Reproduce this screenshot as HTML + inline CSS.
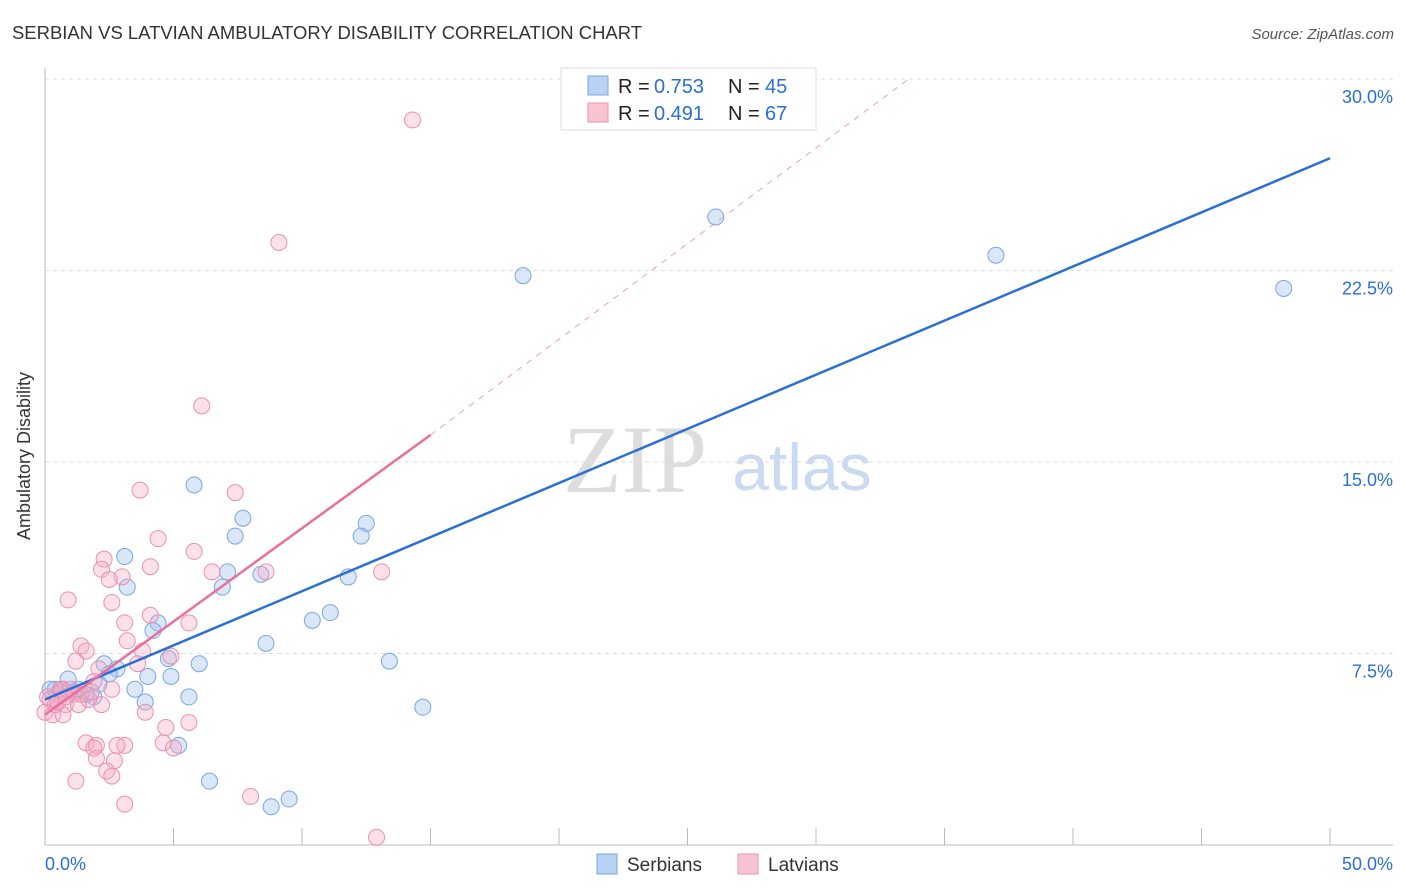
<!DOCTYPE html>
<html><head><meta charset="utf-8"><style>
body{margin:0;background:#fff;font-family:"Liberation Sans",sans-serif;}
svg{display:block}
</style></head><body>
<svg id="chart" width="1406" height="892">
<text x="12" y="39" font-size="18" fill="#333" textLength="630" lengthAdjust="spacingAndGlyphs">SERBIAN VS LATVIAN AMBULATORY DISABILITY CORRELATION CHART</text>
<text x="1394" y="39" font-size="15" fill="#555" font-style="italic" text-anchor="end">Source: ZipAtlas.com</text>
<g>
<text x="635" y="492" font-size="96" font-family="Liberation Serif,serif" fill="#ddd" text-anchor="middle">ZIP</text>
<text x="802" y="490" font-size="66" fill="#c9daf2" text-anchor="middle">atlas</text>
</g>
<g id="grid"></g><g id="axes"></g><g id="lines"></g><g id="pts"></g>
<text x="30" y="456" font-size="18" fill="#333" transform="rotate(-90 30 456)" text-anchor="middle">Ambulatory Disability</text>
<g>
<rect x="561" y="68" width="255" height="62" fill="#fff" stroke="#ddd"/>
<rect x="588" y="76" width="20" height="19" fill="#b8d2f4" stroke="#7aa6e0"/>
<text x="618" y="93" font-size="20" fill="#222">R =</text>
<text x="654" y="93" font-size="20" fill="#2a6fd6">0.753</text>
<text x="728" y="93" font-size="20" fill="#222">N =</text>
<text x="765" y="93" font-size="20" fill="#2a6fd6">45</text>
<rect x="588" y="103" width="20" height="19" fill="#f8c4d4" stroke="#e890b0"/>
<text x="618" y="120" font-size="20" fill="#222">R =</text>
<text x="654" y="120" font-size="20" fill="#2a6fd6">0.491</text>
<text x="728" y="120" font-size="20" fill="#222">N =</text>
<text x="765" y="120" font-size="20" fill="#2a6fd6">67</text>
</g>
<g>
<rect x="597" y="854" width="20" height="20" fill="#b8d2f4" stroke="#7aa6e0"/>
<text x="627" y="871" font-size="19" fill="#333">Serbians</text>
<rect x="738" y="854" width="20" height="20" fill="#f8c4d4" stroke="#e890b0"/>
<text x="768" y="871" font-size="19" fill="#333">Latvians</text>
</g>
</svg>
<script>
const yTicks=[7.5,15,22.5,30];
const yTickLabels=["7.5%","15.0%","22.5%","30.0%"];
const xTicks=[0,5,10,15,20,25,30,35,40,45,50];
const serbX=[26.1,37.0,48.2,18.6,5.8,7.7,7.4,12.5,12.3,3.1,3.2,7.1,6.9,8.4,11.8,11.1,10.4,4.4,4.2,8.6,4.8,6.0,13.4,2.3,2.8,2.5,4.0,4.9,0.9,2.1,3.5,1.3,0.4,5.6,3.9,1.9,14.7,5.2,6.4,8.8,9.5,0.2,0.6,1.6,1.1];
const serbY=[24.6,23.1,21.8,22.3,14.1,12.8,12.1,12.6,12.1,11.3,10.1,10.7,10.1,10.6,10.5,9.1,8.8,8.7,8.4,7.9,7.3,7.1,7.2,7.1,6.9,6.7,6.6,6.6,6.5,6.3,6.1,6.1,6.1,5.8,5.6,5.8,5.4,3.9,2.5,1.5,1.8,6.1,6.0,5.9,6.0];
const latX=[14.3,9.1,6.1,3.7,7.4,4.4,5.8,2.3,4.1,3.0,2.2,2.5,6.5,8.6,13.1,0.9,2.6,4.1,3.1,5.6,3.2,1.4,1.6,3.8,4.9,3.6,1.2,2.1,1.9,0.7,0.5,1.1,0.2,0.8,2.2,0.0,0.3,0.7,3.9,5.6,4.7,4.6,5.0,1.6,2.0,3.1,2.8,1.9,2.0,2.7,2.4,1.2,2.6,3.1,8.0,12.9,1.4,1.7,1.0,0.4,0.6,0.1,1.8,1.3,2.6,0.5,0.8];
const latY=[28.4,23.6,17.2,13.9,13.8,12.0,11.5,11.2,10.9,10.5,10.8,10.4,10.7,10.7,10.7,9.6,9.5,9.0,8.7,8.7,8.0,7.8,7.6,7.6,7.4,7.1,7.2,6.9,6.4,6.1,5.9,5.9,5.7,5.5,5.5,5.2,5.1,5.1,5.2,4.8,4.6,4.0,3.8,4.0,3.9,3.9,3.9,3.8,3.4,3.3,2.9,2.5,2.7,1.6,1.9,0.3,5.9,5.7,6.1,5.5,6.1,5.8,6.0,5.5,6.1,5.6,5.8];
const serbLine=[5.7,26.9];
const latLine=[5.1,16.06];
const latDash=[16.06,30.0,33.6];
const X=v=>45+v*25.7, Y=v=>845-v*25.53;
const NS="http://www.w3.org/2000/svg";
function mk(p,t,a){const e=document.createElementNS(NS,t);for(const k in a)e.setAttribute(k,a[k]);p.appendChild(e);return e;}
const grid=document.getElementById('grid'),axes=document.getElementById('axes'),lines=document.getElementById('lines'),pts=document.getElementById('pts');
yTicks.forEach((t,i)=>{
 const l=mk(grid,'line',{x1:45,x2:1393,y1:Y(t),y2:Y(t),stroke:'#ddd','stroke-dasharray':'4,4'});
 
 
 const tx=mk(axes,'text',{x:1393,y:Y(t)+24,'font-size':18,fill:'#2a6fd6','text-anchor':'end'});
 tx.textContent=yTickLabels[i];
 
 
});
const ax=mk(axes,'line',{x1:45,x2:1393,y1:845,y2:845,stroke:'#bbb'});


const ay=mk(axes,'line',{x1:45,x2:45,y1:68,y2:845,stroke:'#bbb'});


xTicks.forEach(t=>{
 const l=mk(axes,'line',{x1:X(t),x2:X(t),y1:828,y2:845,stroke:'#bbb'});
 
 
});
const x0=mk(axes,'text',{x:45,y:870,'font-size':18,fill:'#2a6fd6'});x0.textContent='0.0%';


const x1=mk(axes,'text',{x:1393,y:870,'font-size':18,fill:'#2a6fd6','text-anchor':'end'});x1.textContent='50.0%';


function dot(x,y,f,s,n){const c=mk(pts,'circle',{cx:X(x),cy:Y(y),r:8,fill:f,stroke:s,'stroke-width':1});
 
 }
serbX.forEach((x,i)=>dot(x,serbY[i],'rgba(160,195,240,0.4)','#7aa6e0','serbian-point'));
latX.forEach((x,i)=>dot(x,latY[i],'rgba(245,170,195,0.35)','#e890b0','latvian-point'));
const d=mk(lines,'line',{x1:X(15),y1:Y(latDash[0]),x2:X(latDash[2]),y2:Y(latDash[1]),stroke:'#e8a0b8','stroke-dasharray':'6,6'});


const sl=mk(pts,'line',{x1:X(0),y1:Y(serbLine[0]),x2:X(50),y2:Y(serbLine[1]),stroke:'#2a6fd6','stroke-width':2.5});


const ll=mk(pts,'line',{x1:X(0),y1:Y(latLine[0]),x2:X(15),y2:Y(latLine[1]),stroke:'#e8709a','stroke-width':2.5});


</script>
</body></html>
